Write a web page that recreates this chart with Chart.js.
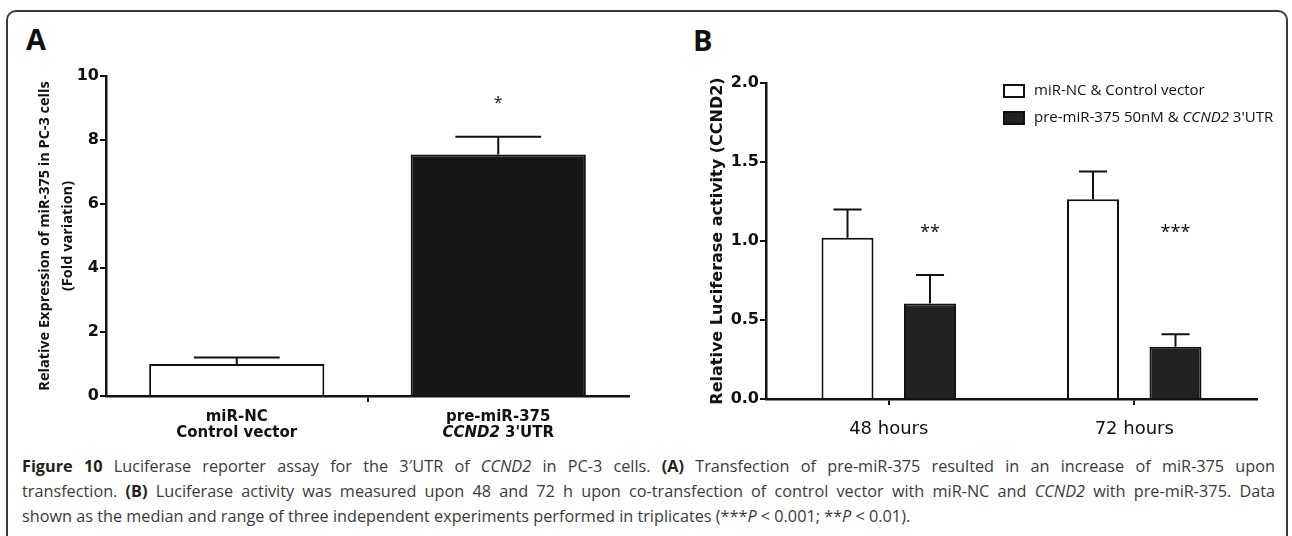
<!DOCTYPE html>
<html>
<head>
<meta charset="utf-8">
<script src="https://cdn.jsdelivr.net/npm/chart.js@4/dist/chart.umd.min.js"></script>
<style>
html,body{margin:0;padding:0;background:#fff;}
body{width:1292px;height:536px;position:relative;overflow:hidden;font-family:'Open Sans',sans-serif;}
#frame{position:absolute;left:6px;top:10px;width:1282px;height:620px;border:2px solid #3a3a3a;border-radius:10px;box-sizing:border-box;}
.panel{position:absolute;font-family:'Open Sans',sans-serif;font-weight:bold;font-size:29px;color:#111;line-height:29px;}
canvas{position:absolute;top:0;}
.cap{position:absolute;left:22px;white-space:nowrap;font-size:16.5px;color:#3a3a3a;transform-origin:0 50%;line-height:20px;}
.cap b{color:#231f20;}
</style>
</head>
<body>
<div id="frame"></div>
<div class="panel" style="left:26px;top:24px;">A</div>
<div class="panel" style="left:693px;top:25px;">B</div>
<canvas id="cA" width="650" height="450" style="left:0px;"></canvas>
<canvas id="cB" width="642" height="450" style="left:650px;"></canvas>
<div class="cap" id="cap1" style="top:456px;"><b>Figure 10</b> Luciferase reporter assay for the 3′UTR of <i>CCND2</i> in PC-3 cells. <b>(A)</b> Transfection of pre-miR-375 resulted in an increase of miR-375 upon</div>
<div class="cap" id="cap2" style="top:481px;">transfection. <b>(B)</b> Luciferase activity was measured upon 48 and 72 h upon co-transfection of control vector with miR-NC and <i>CCND2</i> with pre-miR-375. Data</div>
<div class="cap" id="cap3" style="top:506px;">shown as the median and range of three independent experiments performed in triplicates (***<i>P</i> &lt; 0.001; **<i>P</i> &lt; 0.01).</div>
<script>
// ---------- data ----------
const categoriesA = [["miR-NC", "Control vector"], ["pre-miR-375", "_CCND2_ 3'UTR"]];
const valuesA = [1.0, 7.55];
const upperA = [1.2, 8.1];
const signifA = ["", "*"];
const yTicksA = ["0", "2", "4", "6", "8", "10"];
const yTitleA = ["Relative Expression of miR-375 in PC-3 cells", "(Fold variation)"];

const categoriesB = ["48 hours", "72 hours"];
const seriesNamesB = ["miR-NC & Control vector", "pre-miR-375 50nM & _CCND2_ 3'UTR"];
const valuesBControl = [1.02, 1.265];
const upperBControl = [1.2, 1.44];
const valuesBPre = [0.605, 0.33];
const upperBPre = [0.785, 0.41];
const signifB = ["**", "***"];
const yTicksB = ["0.0", "0.5", "1.0", "1.5", "2.0"];
const yTitleB = "Relative Luciferase activity (CCND2)";

// ---------- helpers ----------
const INK = '#111111';
Chart.defaults.font.family = "'DejaVu Sans', sans-serif";
Chart.defaults.color = INK;
Chart.defaults.animation = false;

function drawRich(ctx, text, x0, cy, size, weight, family, align) {
  const parts = text.split('_');
  const fonts = parts.map((p, k) => (k % 2 ? 'italic ' : '') + weight + ' ' + size + 'px ' + family);
  const widths = parts.map((p, k) => { ctx.font = fonts[k]; return ctx.measureText(p).width; });
  const total = widths.reduce((a, b) => a + b, 0);
  let x = align === 'center' ? x0 - total / 2 : x0;
  ctx.textBaseline = 'middle';
  ctx.textAlign = 'left';
  parts.forEach((p, k) => { ctx.font = fonts[k]; ctx.fillText(p, x, cy); x += widths[k]; });
}

const errorBarPlugin = {
  id: 'errorBars',
  afterDatasetsDraw(chart, args, opts) {
    const ctx = chart.ctx, y = chart.scales.y;
    chart.data.datasets.forEach((ds, di) => {
      if (!ds.errorUpper) return;
      chart.getDatasetMeta(di).data.forEach((bar, i) => {
        const top = y.getPixelForValue(ds.data[i]);
        const up = y.getPixelForValue(ds.errorUpper[i]);
        const cw = bar.width * opts.capRatio;
        ctx.save();
        ctx.strokeStyle = INK;
        ctx.lineWidth = opts.lineWidth;
        ctx.beginPath();
        ctx.moveTo(bar.x, top); ctx.lineTo(bar.x, up);
        ctx.moveTo(bar.x - cw / 2, up); ctx.lineTo(bar.x + cw / 2, up);
        ctx.stroke();
        ctx.restore();
      });
    });
  }
};

const signifPlugin = {
  id: 'signif',
  afterDatasetsDraw(chart, args, opts) {
    const ctx = chart.ctx;
    const yPx = chart.scales.y.getPixelForValue(opts.level);
    chart.data.datasets.forEach((ds, di) => {
      if (!ds.signif) return;
      chart.getDatasetMeta(di).data.forEach((bar, i) => {
        const t = ds.signif[i];
        if (!t) return;
        ctx.save();
        ctx.font = opts.font;
        ctx.fillStyle = INK;
        ctx.textAlign = 'center';
        ctx.textBaseline = 'alphabetic';
        ctx.fillText(t, bar.x, yPx);
        ctx.restore();
      });
    });
  }
};

const richXPlugin = {
  id: 'richX',
  afterDraw(chart, args, opts) {
    const xs = chart.scales.x, ctx = chart.ctx;
    ctx.save();
    ctx.fillStyle = INK;
    chart.data.labels.forEach((lines, i) => {
      const cx = xs.getPixelForTick(i);
      lines.forEach((line, j) => drawRich(ctx, line, cx, xs.top + opts.first + j * opts.gap, opts.size, 'bold', opts.family, 'center'));
    });
    ctx.restore();
  }
};

const richLegendPlugin = {
  id: 'richLegend',
  afterDraw(chart, args, opts) {
    const ctx = chart.ctx;
    opts.labels.forEach((lab, i) => {
      const ds = chart.data.datasets[i];
      const y = opts.y + i * opts.rowH;
      ctx.save();
      ctx.fillStyle = ds.backgroundColor;
      ctx.fillRect(opts.x, y, opts.boxW, opts.boxH);
      ctx.lineWidth = 2;
      ctx.strokeStyle = INK;
      ctx.strokeRect(opts.x + 1, y + 1, opts.boxW - 2, opts.boxH - 2);
      ctx.fillStyle = INK;
      drawRich(ctx, lab, opts.x + opts.boxW + opts.gap, y + opts.boxH / 2, opts.size, 'normal', opts.family, 'left');
      ctx.restore();
    });
  }
};

function axisGrid(extra) {
  return Object.assign({ display: true, drawOnChartArea: false, drawTicks: true, tickLength: 6, lineWidth: 2, color: INK }, extra || {});
}
const axisBorder = { display: true, color: INK, width: 2.5 };

// ---------- chart A ----------
new Chart(document.getElementById('cA'), {
  type: 'bar',
  data: {
    labels: categoriesA,
    datasets: [{
      data: valuesA, errorUpper: upperA, signif: signifA,
      backgroundColor: ['#ffffff', '#161616'], borderColor: INK, borderWidth: 2,
      categoryPercentage: 0.67, barPercentage: 1.0
    }]
  },
  options: {
    responsive: false, devicePixelRatio: 1, animation: false,
    layout: { padding: { left: 33, right: 21, top: 76, bottom: 4 } },
    plugins: {
      legend: { display: false }, tooltip: { enabled: false },
      errorBars: { capRatio: 0.49, lineWidth: 2 },
      signif: { level: 9.0, font: "16px 'Open Sans', sans-serif" },
      richX: { first: 21, gap: 16, size: 15, family: "'DejaVu Sans', sans-serif" }
    },
    scales: {
      x: {
        grid: axisGrid({ offset: true, color: c => (c.index === 1 ? INK : 'rgba(0,0,0,0)') }),
        border: axisBorder,
        ticks: { display: false },
        afterFit: s => { s.height = 50; }
      },
      y: {
        min: 0, max: 10,
        ticks: { stepSize: 2, padding: 1, font: { size: 16, weight: 'bold' }, callback: (v, i) => yTicksA[i] },
        grid: axisGrid(),
        border: axisBorder,
        title: { display: true, text: yTitleA, padding: 0, font: { family: "'Open Sans', sans-serif", size: 14.5, weight: 'bold', lineHeight: 1.59 } },
        afterFit: s => { s.width = 73; }
      }
    }
  },
  plugins: [errorBarPlugin, signifPlugin, richXPlugin]
});

// ---------- chart B ----------
new Chart(document.getElementById('cB'), {
  type: 'bar',
  data: {
    labels: categoriesB,
    datasets: [
      { label: seriesNamesB[0].replace(/_/g, ''), data: valuesBControl, errorUpper: upperBControl,
        backgroundColor: '#ffffff', borderColor: INK, borderWidth: 2, categoryPercentage: 0.672, barPercentage: 0.63 },
      { label: seriesNamesB[1].replace(/_/g, ''), data: valuesBPre, errorUpper: upperBPre, signif: signifB,
        backgroundColor: '#222222', borderColor: INK, borderWidth: 2, categoryPercentage: 0.672, barPercentage: 0.63 }
    ]
  },
  options: {
    responsive: false, devicePixelRatio: 1, animation: false,
    layout: { padding: { left: 58, right: 35, top: 83, bottom: 11 } },
    plugins: {
      legend: { display: false }, tooltip: { enabled: false },
      errorBars: { capRatio: 0.54, lineWidth: 2 },
      signif: { level: 1.02, font: "18px 'Open Sans', sans-serif" },
      richLegend: { labels: seriesNamesB, x: 353, y: 84, rowH: 27, boxW: 22, boxH: 14, gap: 9, size: 15, family: "'Open Sans', sans-serif" }
    },
    scales: {
      x: {
        grid: axisGrid({ offset: false }),
        border: axisBorder,
        ticks: { padding: 14, font: { size: 18 } },
        afterFit: s => { s.height = 40; }
      },
      y: {
        min: 0, max: 2,
        ticks: { stepSize: 0.5, padding: 1, font: { size: 16, weight: 'bold' }, callback: (v, i) => yTicksB[i] },
        grid: axisGrid(),
        border: axisBorder,
        title: { display: true, text: yTitleB, padding: 0, font: { size: 16, weight: 'bold' } },
        afterFit: s => { s.width = 58; }
      }
    }
  },
  plugins: [errorBarPlugin, signifPlugin, richLegendPlugin]
});

// ---------- caption fit (condensed glyphs, justified first two lines) ----------
(function () {
  const c1 = document.getElementById('cap1'), c2 = document.getElementById('cap2'), c3 = document.getElementById('cap3');
  const full = 1253;
  const w = Math.max(c1.scrollWidth, c2.scrollWidth);
  const s = 0.93 * full / w;
  [c1, c2].forEach(c => {
    c.style.whiteSpace = 'normal';
    c.style.width = (full / s) + 'px';
    c.style.textAlign = 'justify';
    c.style.textAlignLast = 'justify';
    c.style.transform = 'scaleX(' + s + ')';
  });
  c3.style.transform = 'scaleX(' + s + ')';
})();
</script>
</body>
</html>
